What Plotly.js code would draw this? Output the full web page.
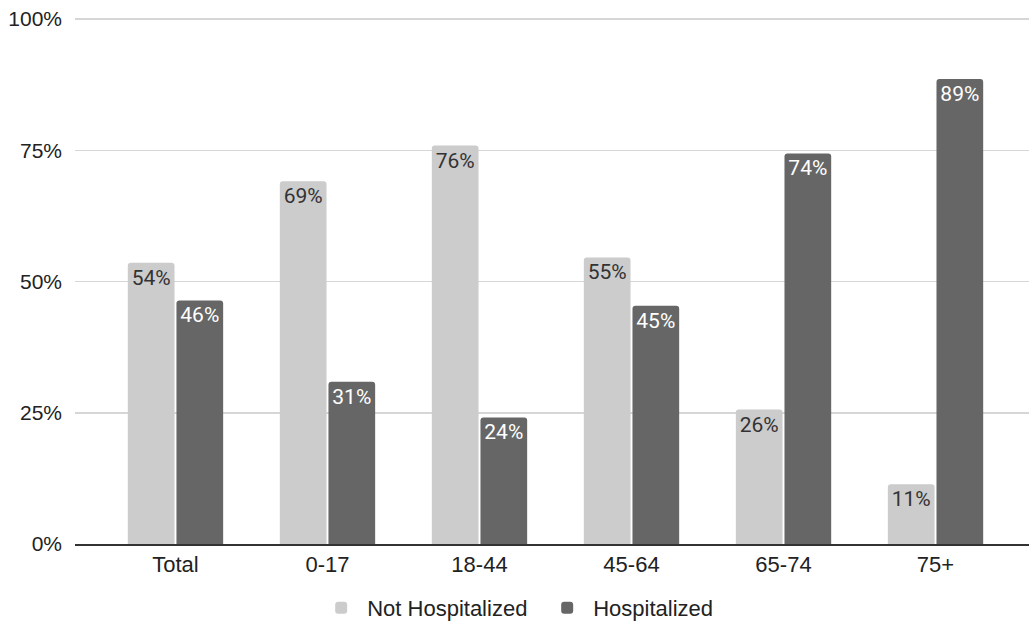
<!DOCTYPE html>
<html>
<head>
<meta charset="utf-8">
<script src="https://cdn.plot.ly/plotly-3.0.1.min.js"></script>
<style>html,body{margin:0;padding:0;background:#fff;}#chart{width:1029px;height:624px;}</style>
</head>
<body>
<div id="chart"></div>
<script>
var categories = ["Total", "0-17", "18-44", "45-64", "65-74", "75+"];
var notHospitalized = [53.6, 69.1, 75.9, 54.6, 25.6, 11.4];
var hospitalized = [46.4, 30.9, 24.1, 45.4, 74.4, 88.6];
var tickVals = [0, 25, 50, 75, 100];
var tickText = ["0%", "25%", "50%", "75%", "100%"];

var traces = [
  {
    type: "bar", name: "Not Hospitalized", x: categories, y: notHospitalized,
    marker: {color: "#cccccc", cornerradius: 3},
    texttemplate: "%{y:.0f}%", textposition: "inside", insidetextanchor: "end",
    textfont: {family: "Roboto", size: 21, color: "#333333"},
    textangle: 0, hoverinfo: "x+y"
  },
  {
    type: "bar", name: "Hospitalized", x: categories, y: hospitalized,
    marker: {color: "#666666", cornerradius: 3},
    texttemplate: "%{y:.0f}%", textposition: "inside", insidetextanchor: "end",
    textfont: {family: "Roboto", size: 21, color: "#ffffff"},
    textangle: 0, hoverinfo: "x+y"
  }
];

var layout = {
  width: 1029, height: 624,
  margin: {l: 75, r: 0, t: 18, b: 80, autoexpand: false},
  paper_bgcolor: "#ffffff", plot_bgcolor: "#ffffff",
  barmode: "group", bargap: 0.36, bargroupgap: 0.04,
  font: {family: "Liberation Sans, Arial, sans-serif", size: 22, color: "#222222"},
  xaxis: {
    type: "category", range: [-0.661, 5.615], showgrid: false,
    showline: true, linecolor: "#333333", linewidth: 1.5,
    ticks: "", tickfont: {size: 22, color: "#222222"}, automargin: false
  },
  yaxis: {
    range: [0, 100.2], tickvals: tickVals, ticktext: tickText,
    showgrid: true, gridcolor: "#d6d6d6", gridwidth: 1.5,
    zeroline: false, showline: false, ticks: "", ticklabelstandoff: 12,
    tickfont: {size: 21, color: "#222222"}, automargin: false
  },
  showlegend: true,
  legend: {
    orientation: "h", x: 0.3063, xanchor: "left", xref: "container",
    y: -0.1217, yanchor: "middle", yref: "paper",
    font: {size: 22, color: "#222222"}, itemwidth: 42, traceorder: "normal",
    entrywidth: 169, entrywidthmode: "pixels"
  }
};

Plotly.newPlot("chart", traces, layout, {displayModeBar: false, staticPlot: true});
</script>
</body>
</html>
